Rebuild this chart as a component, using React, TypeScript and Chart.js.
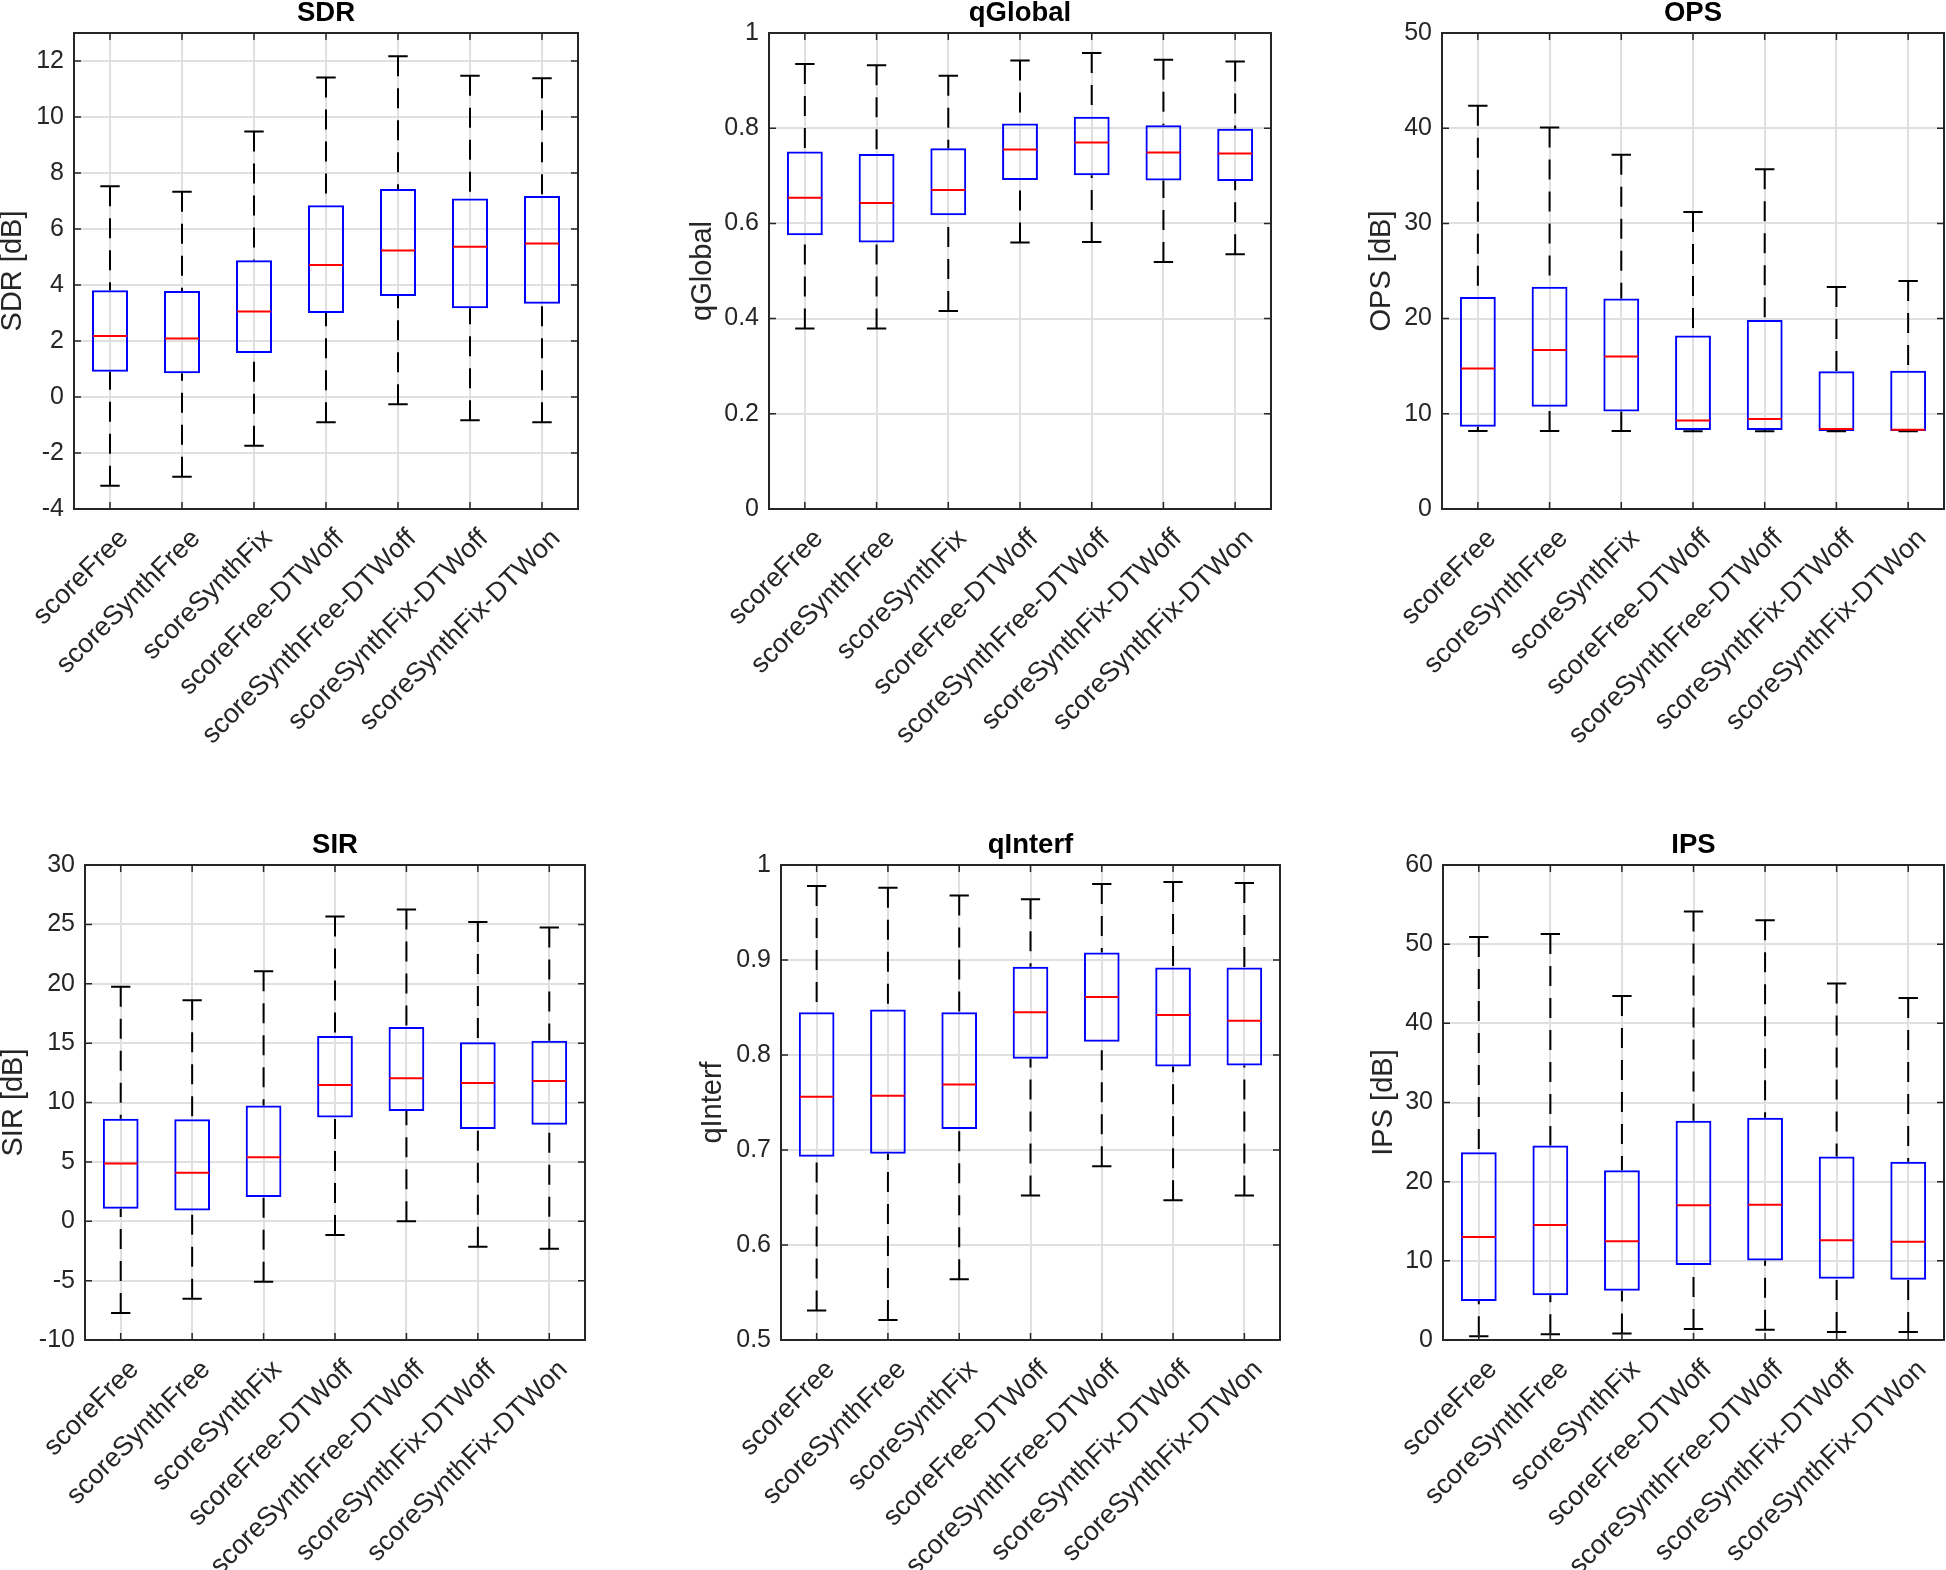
import React, { useEffect, useRef } from "react";
import { Chart, registerables } from "chart.js";

Chart.register(...registerables);
Chart.defaults.font.family = "'Liberation Sans', Arial, Helvetica, sans-serif";

const categories = [
  "scoreFree",
  "scoreSynthFree",
  "scoreSynthFix",
  "scoreFree-DTWoff",
  "scoreSynthFree-DTWoff",
  "scoreSynthFix-DTWoff",
  "scoreSynthFix-DTWon",
];

// SDR [dB]
const sdrMin = [-3.17, -2.85, -1.74, -0.9, -0.26, -0.83, -0.9];
const sdrQ1 = [0.9, 0.85, 1.57, 3.0, 3.61, 3.17, 3.33];
const sdrMed = [2.18, 2.09, 3.05, 4.71, 5.23, 5.37, 5.48];
const sdrQ3 = [3.81, 3.79, 4.88, 6.85, 7.43, 7.09, 7.18];
const sdrMax = [7.53, 7.33, 9.48, 11.41, 12.17, 11.47, 11.38];
const sdrTicks = [-4, -2, 0, 2, 4, 6, 8, 10, 12];

// qGlobal
const qgMin = [0.379, 0.379, 0.416, 0.56, 0.561, 0.519, 0.535];
const qgQ1 = [0.575, 0.56, 0.617, 0.691, 0.701, 0.69, 0.689];
const qgMed = [0.654, 0.643, 0.67, 0.755, 0.77, 0.749, 0.747];
const qgQ3 = [0.751, 0.746, 0.758, 0.81, 0.824, 0.806, 0.799];
const qgMax = [0.935, 0.932, 0.91, 0.942, 0.958, 0.944, 0.94];
const qgTicks = [0, 0.2, 0.4, 0.6, 0.8, 1];

// OPS [dB]
const opsMin = [8.19, 8.19, 8.19, 8.16, 8.16, 8.16, 8.16];
const opsQ1 = [8.65, 10.73, 10.24, 8.3, 8.3, 8.19, 8.19];
const opsMed = [14.76, 16.7, 16.03, 9.29, 9.46, 8.4, 8.33];
const opsQ3 = [22.28, 23.34, 22.1, 18.22, 19.84, 14.48, 14.51];
const opsMax = [42.37, 40.08, 37.22, 31.21, 35.7, 23.31, 23.94];
const opsTicks = [0, 10, 20, 30, 40, 50];

// SIR [dB]
const sirMin = [-7.73, -6.52, -5.1, -1.16, 0.0, -2.15, -2.32];
const sirQ1 = [1.05, 0.91, 2.04, 8.73, 9.29, 7.76, 8.13];
const sirMed = [4.87, 4.08, 5.38, 11.47, 12.04, 11.64, 11.81];
const sirQ3 = [8.64, 8.58, 9.75, 15.61, 16.35, 15.07, 15.21];
const sirMax = [19.75, 18.61, 21.05, 25.67, 26.26, 25.21, 24.73];
const sirTicks = [-10, -5, 0, 5, 10, 15, 20, 25, 30];

// qInterf
const qiMin = [0.531, 0.521, 0.564, 0.652, 0.683, 0.647, 0.652];
const qiQ1 = [0.693, 0.696, 0.722, 0.796, 0.814, 0.788, 0.789];
const qiMed = [0.756, 0.757, 0.769, 0.845, 0.861, 0.842, 0.836];
const qiQ3 = [0.845, 0.848, 0.845, 0.893, 0.908, 0.892, 0.892];
const qiMax = [0.978, 0.976, 0.968, 0.964, 0.98, 0.982, 0.981];
const qiTicks = [0.5, 0.6, 0.7, 0.8, 0.9, 1];

// IPS [dB]
const ipsMin = [0.47, 0.72, 0.81, 1.4, 1.28, 1.02, 1.02];
const ipsQ1 = [4.93, 5.65, 6.21, 9.48, 10.03, 7.74, 7.61];
const ipsMed = [13.01, 14.54, 12.46, 17.01, 17.09, 12.59, 12.41];
const ipsQ3 = [23.72, 24.57, 21.43, 27.68, 28.06, 23.17, 22.53];
const ipsMax = [50.89, 51.28, 43.45, 54.12, 53.02, 45.03, 43.2];
const ipsTicks = [0, 10, 20, 30, 40, 50, 60];

type Stats = { min: number[]; q1: number[]; med: number[]; q3: number[]; max: number[] };

type Panel = {
  title: string;
  ylabel: string;
  ticks: number[];
  ymin: number;
  ymax: number;
  stats: Stats;
  cl: number;
  ct: number;
  L: number;
  R: number;
  T: number;
  B: number;
  cw: number;
  ch: number;
  titlePadTop: number;
  ylabelPad: number;
};

const panels: Panel[] = [
  {
    title: "SDR", ylabel: "SDR [dB]", ticks: sdrTicks, ymin: -4, ymax: 13,
    stats: { min: sdrMin, q1: sdrQ1, med: sdrMed, q3: sdrQ3, max: sdrMax },
    cl: 0, ct: 0, L: 74, R: 578, T: 33, B: 509, cw: 584, ch: 800, titlePadTop: 0, ylabelPad: -1.5,
  },
  {
    title: "qGlobal", ylabel: "qGlobal", ticks: qgTicks, ymin: 0, ymax: 1,
    stats: { min: qgMin, q1: qgQ1, med: qgMed, q3: qgQ3, max: qgMax },
    cl: 660, ct: 0, L: 769, R: 1271, T: 33, B: 509, cw: 617, ch: 800, titlePadTop: 0, ylabelPad: 28.5,
  },
  {
    title: "OPS", ylabel: "OPS [dB]", ticks: opsTicks, ymin: 0, ymax: 50,
    stats: { min: opsMin, q1: opsQ1, med: opsMed, q3: opsQ3, max: opsMax },
    cl: 1320, ct: 0, L: 1442, R: 1944, T: 33, B: 509, cw: 626, ch: 800, titlePadTop: 0, ylabelPad: 47.5,
  },
  {
    title: "SIR", ylabel: "SIR [dB]", ticks: sirTicks, ymin: -10, ymax: 30,
    stats: { min: sirMin, q1: sirQ1, med: sirMed, q3: sirQ3, max: sirMax },
    cl: 0, ct: 830, L: 85, R: 585, T: 865, B: 1340, cw: 591, ch: 740, titlePadTop: 2, ylabelPad: -0.5,
  },
  {
    title: "qInterf", ylabel: "qInterf", ticks: qiTicks, ymin: 0.5, ymax: 1,
    stats: { min: qiMin, q1: qiQ1, med: qiMed, q3: qiQ3, max: qiMax },
    cl: 660, ct: 830, L: 781, R: 1280, T: 865, B: 1340, cw: 626, ch: 740, titlePadTop: 2, ylabelPad: 38,
  },
  {
    title: "IPS", ylabel: "IPS [dB]", ticks: ipsTicks, ymin: 0, ymax: 60,
    stats: { min: ipsMin, q1: ipsQ1, med: ipsMed, q3: ipsQ3, max: ipsMax },
    cl: 1320, ct: 830, L: 1443, R: 1944, T: 865, B: 1340, cw: 626, ch: 740, titlePadTop: 2, ylabelPad: 49.5,
  },
];

const AXIS_COLOR = "#262626";
const GRID_COLOR = "#e0e0e0";
const TICK_FONT = 25;
const XTICK_FONT = 27;
const TITLE_FONT = 27.5;
const YLABEL_FONT = 29;

function makeBoxPlugin(stats: Stats, yTicks: number[]) {
  return {
    id: "boxWhisker",
    afterDatasetsDraw(chart: any) {
      const { ctx, scales } = chart;
      const y = scales.y;
      const meta = chart.getDatasetMeta(0);
      ctx.save();
      meta.data.forEach((bar: any, i: number) => {
        const cx = bar.x;
        const w = bar.width;
        const capW = w * 0.54;
        const yMin = y.getPixelForValue(stats.min[i]);
        const yQ1 = y.getPixelForValue(stats.q1[i]);
        const yMed = y.getPixelForValue(stats.med[i]);
        const yQ3 = y.getPixelForValue(stats.q3[i]);
        const yMax = y.getPixelForValue(stats.max[i]);
        ctx.strokeStyle = "#000000";
        ctx.lineWidth = 2;
        ctx.setLineDash([20, 12]);
        ctx.beginPath();
        ctx.moveTo(cx, yMax);
        ctx.lineTo(cx, yQ3);
        ctx.moveTo(cx, yMin);
        ctx.lineTo(cx, yQ1);
        ctx.stroke();
        ctx.setLineDash([]);
        ctx.beginPath();
        ctx.moveTo(cx - capW / 2, yMax);
        ctx.lineTo(cx + capW / 2, yMax);
        ctx.moveTo(cx - capW / 2, yMin);
        ctx.lineTo(cx + capW / 2, yMin);
        ctx.stroke();
        ctx.strokeStyle = "#ff0000";
        ctx.beginPath();
        ctx.moveTo(cx - w / 2 + 1, yMed);
        ctx.lineTo(cx + w / 2 - 1, yMed);
        ctx.stroke();
      });
      ctx.restore();
    },
    afterDraw(chart: any) {
      const { ctx, chartArea, scales } = chart;
      const { left, right, top, bottom } = chartArea;
      const tl = 7;
      ctx.save();
      ctx.strokeStyle = AXIS_COLOR;
      ctx.lineWidth = 1.5;
      ctx.beginPath();
      yTicks.forEach((v) => {
        const py = scales.y.getPixelForValue(v);
        ctx.moveTo(left, py);
        ctx.lineTo(left + tl, py);
        ctx.moveTo(right, py);
        ctx.lineTo(right - tl, py);
      });
      categories.forEach((_, i) => {
        const px = scales.x.getPixelForValue(i);
        ctx.moveTo(px, bottom);
        ctx.lineTo(px, bottom - tl);
        ctx.moveTo(px, top);
        ctx.lineTo(px, top + tl);
      });
      ctx.stroke();
      ctx.lineWidth = 2;
      ctx.strokeRect(left, top, right - left, bottom - top);
      ctx.restore();
    },
  };
}

function BoxPanel({ p }: { p: Panel }) {
  const ref = useRef<HTMLCanvasElement>(null);
  useEffect(() => {
    const leftSpace = p.L - p.cl;
    const topSpace = p.T - p.ct;
    const rightSpace = p.cl + p.cw - p.R;
    const bottomSpace = p.ct + p.ch - p.B;
    const chart = new Chart(ref.current as HTMLCanvasElement, {
      type: "bar",
      data: {
        labels: categories,
        datasets: [
          {
            data: p.stats.q1.map((v, i) => [v, p.stats.q3[i]]) as any,
            backgroundColor: "rgba(0,0,0,0)",
            borderColor: "#0000ff",
            borderWidth: 2,
            borderSkipped: false,
            barPercentage: 0.5,
            categoryPercentage: 1,
          },
        ],
      },
      options: {
        responsive: false,
        animation: false,
        devicePixelRatio: 1,
        layout: { padding: { left: 0, right: rightSpace, top: 0, bottom: 0 } },
        plugins: {
          legend: { display: false },
          tooltip: { enabled: false },
          title: {
            display: true,
            fullSize: false,
            text: p.title,
            color: "#000000",
            font: { size: TITLE_FONT, weight: "bold", lineHeight: 1 },
            padding: { top: p.titlePadTop, bottom: topSpace - p.titlePadTop - TITLE_FONT },
          },
        },
        scales: {
          x: {
            type: "category",
            offset: true,
            grid: { offset: false, drawTicks: false, color: GRID_COLOR, lineWidth: 2 },
            border: { display: false },
            ticks: {
              minRotation: 45,
              maxRotation: 45,
              autoSkip: false,
              padding: 14,
              labelOffset: 14,
              color: AXIS_COLOR,
              font: { size: XTICK_FONT },
            },
            afterFit: (s: any) => {
              s.height = bottomSpace;
              s.paddingLeft = 0;
              s.paddingRight = 0;
              s.paddingTop = 0;
              s.paddingBottom = 0;
            },
          },
          y: {
            type: "linear",
            min: p.ymin,
            max: p.ymax,
            grid: { drawTicks: false, color: GRID_COLOR, lineWidth: 2 },
            border: { display: false },
            ticks: {
              padding: 10,
              color: AXIS_COLOR,
              font: { size: TICK_FONT },
              callback: (v: any) => String(v),
            },
            afterBuildTicks: (s: any) => {
              s.ticks = p.ticks.map((v) => ({ value: v }));
            },
            afterFit: (s: any) => {
              s.width = leftSpace;
              s.paddingLeft = 0;
              s.paddingRight = 0;
              s.paddingTop = 0;
              s.paddingBottom = 0;
            },
            title: {
              display: true,
              text: p.ylabel,
              color: AXIS_COLOR,
              font: { size: YLABEL_FONT, lineHeight: 1 },
              padding: { top: p.ylabelPad, bottom: 0 },
            },
          },
        },
      } as any,
      plugins: [makeBoxPlugin(p.stats, p.ticks)],
    });
    return () => chart.destroy();
  }, [p]);
  return (
    <canvas
      ref={ref}
      width={p.cw}
      height={p.ch}
      style={{ position: "absolute", left: p.cl, top: p.ct, width: p.cw, height: p.ch }}
    />
  );
}

export default function App() {
  return (
    <div
      style={{
        position: "absolute",
        left: 0,
        top: 0,
        width: 1946,
        height: 1570,
        background: "#ffffff",
        overflow: "hidden",
      }}
    >
      {panels.map((p) => (
        <BoxPanel key={p.title} p={p} />
      ))}
    </div>
  );
}
